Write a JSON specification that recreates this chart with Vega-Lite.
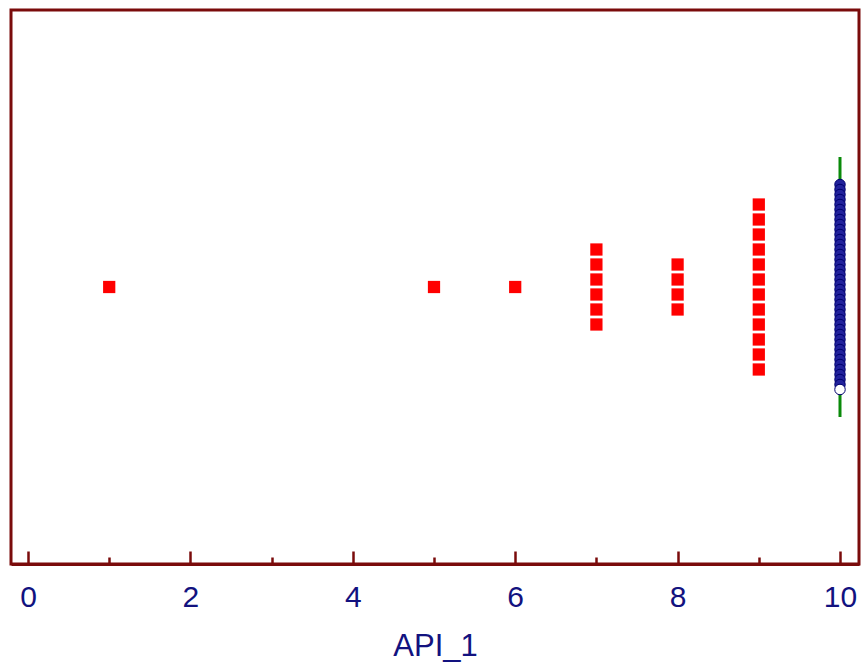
{
  "$schema": "https://vega.github.io/schema/vega-lite/v6.json",
  "width": 848,
  "height": 554,
  "autosize": "none",
  "padding": {"left": 11, "top": 10, "right": 2, "bottom": 100},
  "background": "white",
  "config": {
    "view": {"stroke": "#7a0b0b", "strokeWidth": 3},
    "font": "Liberation Sans"
  },
  "data": {"values": [
    {"API_1": 1}, {"API_1": 5}, {"API_1": 6},
    {"API_1": 7}, {"API_1": 7}, {"API_1": 7}, {"API_1": 7}, {"API_1": 7}, {"API_1": 7},
    {"API_1": 8}, {"API_1": 8}, {"API_1": 8}, {"API_1": 8},
    {"API_1": 9}, {"API_1": 9}, {"API_1": 9}, {"API_1": 9}, {"API_1": 9}, {"API_1": 9},
    {"API_1": 9}, {"API_1": 9}, {"API_1": 9}, {"API_1": 9}, {"API_1": 9}, {"API_1": 9},
    {"API_1": 10}, {"API_1": 10}, {"API_1": 10}, {"API_1": 10}, {"API_1": 10}, {"API_1": 10},
    {"API_1": 10}, {"API_1": 10}, {"API_1": 10}, {"API_1": 10}, {"API_1": 10}, {"API_1": 10},
    {"API_1": 10}, {"API_1": 10}, {"API_1": 10}, {"API_1": 10}, {"API_1": 10}, {"API_1": 10},
    {"API_1": 10}, {"API_1": 10}, {"API_1": 10}, {"API_1": 10}, {"API_1": 10}, {"API_1": 10},
    {"API_1": 10}, {"API_1": 10}, {"API_1": 10}, {"API_1": 10}, {"API_1": 10}, {"API_1": 10},
    {"API_1": 10}, {"API_1": 10}, {"API_1": 10}, {"API_1": 10}, {"API_1": 10}, {"API_1": 10},
    {"API_1": 10}, {"API_1": 10}, {"API_1": 10}, {"API_1": 10}, {"API_1": 10}, {"API_1": 10}
  ]},
  "transform": [
    {"window": [{"op": "count", "as": "one"}], "frame": [0, 0]},
    {"stack": "one", "groupby": ["API_1"], "offset": "center", "as": ["y0", "y1"]}
  ],
  "encoding": {
    "x": {
      "field": "API_1",
      "type": "quantitative",
      "scale": {"domain": [-0.2094, 10.234], "nice": false, "zero": false},
      "axis": {
        "values": [0, 1, 2, 3, 4, 5, 6, 7, 8, 9, 10],
        "labelExpr": "datum.value % 2 == 0 ? datum.label : ''",
        "grid": false,
        "domainColor": "#7a0b0b",
        "domainWidth": 3,
        "tickColor": "#7a0b0b",
        "tickWidth": 2.5,
        "tickSize": {"condition": {"test": "datum.value % 2 == 0", "value": -13}, "value": -7},
        "labelColor": "#12127f",
        "labelFontSize": 30,
        "labelPadding": 31,
        "labelFont": "Liberation Sans",
        "title": "API_1",
        "titleColor": "#12127f",
        "titleFontSize": 31,
        "titleFontWeight": "normal",
        "titleFont": "Liberation Sans",
        "titlePadding": 19
      }
    }
  },
  "layer": [
    {
      "transform": [{"filter": "datum.API_1 == 10"}],
      "mark": {"type": "rule", "color": "#0a8a0a", "strokeWidth": 3},
      "encoding": {
        "x": {"aggregate": "median", "field": "API_1", "type": "quantitative"},
        "y": {"datum": -130, "type": "quantitative", "scale": {"domain": [-277, 277], "reverse": true, "nice": false, "zero": false}, "axis": null},
        "y2": {"datum": 130}
      }
    },
    {
      "transform": [{"filter": "datum.API_1 < 10"}],
      "mark": {"type": "square", "size": 150, "color": "#ff0000", "opacity": 1, "filled": true},
      "encoding": {
        "y": {"field": "y0", "type": "quantitative", "scale": {"domain": [2.033, 38.967], "reverse": true, "nice": false, "zero": false}, "axis": null}
      }
    },
    {
      "transform": [{"filter": "datum.API_1 == 10"}],
      "mark": {"type": "circle", "size": 110, "opacity": 1, "stroke": "#00006e", "strokeWidth": 1},
      "encoding": {
        "y": {"field": "y0", "type": "quantitative", "scale": {"domain": [-34.9, 75.9], "reverse": true, "nice": false, "zero": false}, "axis": null},
        "fill": {"condition": {"test": "datum.y1 > 41.5", "value": "white"}, "value": "#22229c"}
      }
    }
  ],
  "resolve": {"scale": {"y": "independent"}}
}
